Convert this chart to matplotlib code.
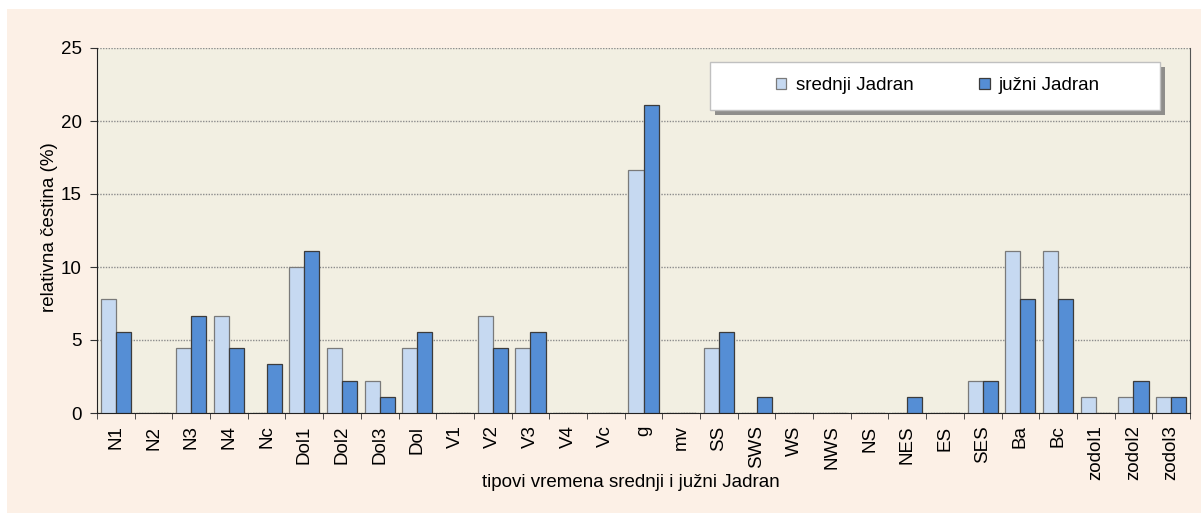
import matplotlib.pyplot as plt
import matplotlib.patches as mpatches
import numpy as np

plt.rcParams['font.family'] = ['Liberation Sans', 'DejaVu Sans']

# kategorije (tipovi vremena)
tipovi = ['N1', 'N2', 'N3', 'N4', 'Nc', 'Dol1', 'Dol2', 'Dol3', 'Dol', 'V1',
          'V2', 'V3', 'V4', 'Vc', 'g', 'mv', 'SS', 'SWS', 'WS', 'NWS',
          'NS', 'NES', 'ES', 'SES', 'Ba', 'Bc', 'zodol1', 'zodol2', 'zodol3']

# relativna čestina (%)
srednji = [7.78, 0, 4.44, 6.67, 0, 10.0, 4.44, 2.22, 4.44, 0,
           6.67, 4.44, 0, 0, 16.67, 0, 4.44, 0, 0, 0,
           0, 0, 0, 2.22, 11.11, 11.11, 1.11, 1.11, 1.11]
juzni = [5.56, 0, 6.67, 4.44, 3.33, 11.11, 2.22, 1.11, 5.56, 0,
         4.44, 5.56, 0, 0, 21.11, 0, 5.56, 1.11, 0, 0,
         0, 1.11, 0, 2.22, 7.78, 7.78, 0, 2.22, 1.11]

serije = ['srednji Jadran', 'južni Jadran']

FS = 13.5

fig = plt.figure(figsize=(12.01, 5.13), dpi=100)
fig.patch.set_facecolor('white')
# bež pozadina
fig.patches.append(mpatches.Rectangle((7 / 1201, 0), 1, 1 - 9 / 513,
                                      transform=fig.transFigure,
                                      facecolor='#fcf0e6', edgecolor='none', zorder=-10))

ax = fig.add_axes([97 / 1201, 1 - 413 / 513, 1093 / 1201, 365 / 513])
ax.set_facecolor('#f2efe2')

x = np.arange(len(tipovi))
w = 0.4
ax.bar(x - w / 2, srednji, w, color='#c6d9f1', edgecolor='#7a7a7a', linewidth=0.9,
       label=serije[0], zorder=3)
ax.bar(x + w / 2, juzni, w, color='#558ed5', edgecolor='#3c3c3c', linewidth=0.9,
       label=serije[1], zorder=3)

ax.set_xlim(-0.5, len(tipovi) - 0.5)
ax.set_ylim(0, 25)
ax.set_yticks([0, 5, 10, 15, 20, 25])
ax.yaxis.grid(True, linestyle=(0, (1, 1)), color='#8c8c8c', linewidth=1, zorder=1)

ax.set_xticks(x)
ax.set_xticklabels(tipovi, rotation=90)
ax.set_xticks(np.arange(len(tipovi) + 1) - 0.5, minor=True)
ax.tick_params(axis='x', which='major', length=0, pad=9, labelsize=FS)
ax.tick_params(axis='x', which='minor', length=4, color='#333333')
ax.tick_params(axis='y', length=5, pad=6, labelsize=FS, color='#333333')

ax.spines['top'].set_visible(False)
ax.spines['left'].set_color('#222222')
ax.spines['bottom'].set_color('#222222')
ax.spines['right'].set_color('#555555')

ax.set_xlabel('tipovi vremena srednji i južni Jadran', fontsize=FS)
ax.xaxis.set_label_coords(0.4886, -0.168)
ax.set_ylabel('relativna čestina (%)', fontsize=FS)
ax.yaxis.set_label_coords(-0.036, 0.51)

# okvir legende sa sjenom
bx, by, bw, bh = 0.5608, 0.830, 0.4117, 0.1315
ax.add_patch(mpatches.Rectangle((bx + 0.005, by - 0.014), bw, bh, transform=ax.transAxes,
                                facecolor='#6e6e6e', edgecolor='none', alpha=0.75, zorder=4))
ax.add_patch(mpatches.Rectangle((bx, by), bw, bh, transform=ax.transAxes,
                                facecolor='white', edgecolor='#c0c0c0', linewidth=1, zorder=4.5))

leg = ax.legend(loc='center', bbox_to_anchor=(0.7695, 0.896), ncol=2, fontsize=FS,
                frameon=False, handlelength=0.55, handleheight=0.55,
                handletextpad=0.5, columnspacing=3.5)
leg.set_zorder(5)

fig.savefig('out.png', dpi=100, facecolor=fig.get_facecolor())
